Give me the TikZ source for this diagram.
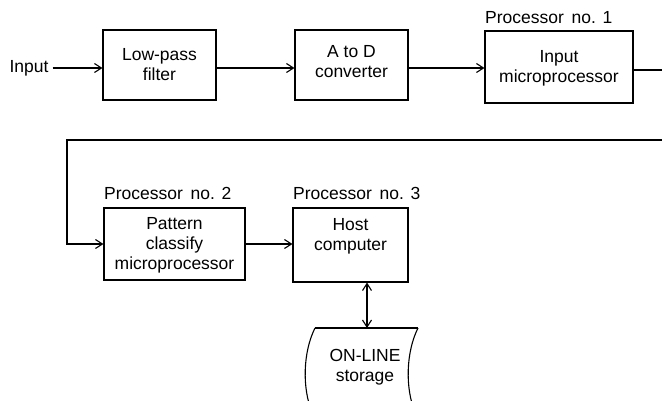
\documentclass[tikz,border=0pt]{standalone}
\usepackage{fontspec}
\setmainfont{Liberation Sans}
\usetikzlibrary{arrows.meta}
\begin{document}
\begin{tikzpicture}[x=1pt,y=-1pt,
  blk/.style={draw, line width=1.1pt, inner sep=0pt},
  txt/.style={align=center, font=\fontsize{17.5}{20}\selectfont, inner sep=0pt},
  lbl/.style={anchor=west, font=\fontsize{17.5}{20}\selectfont, inner sep=0pt},
  conn/.style={line width=1.1pt, -{Straight Barb[length=7pt,width=9pt,line width=1.1pt]}},
  line/.style={line width=1.1pt}]
\useasboundingbox (0,0) rectangle (662,400);
\clip (0,0) rectangle (662,400);
% blocks
\node[blk, minimum width=113pt, minimum height=70pt] (lpf) at (159.5,65) {};
\node[txt] (lpft) at (159.5,65) {Low-pass\\filter};
\node[blk, minimum width=113pt, minimum height=70pt] (atod) at (351.5,65) {};
\node[txt] (atodt) at (351.5,62) {A to D\\converter};
\node[blk, minimum width=148pt, minimum height=72pt] (inp) at (559,67) {};
\node[txt] (inpt) at (559,68) {Input\\microprocessor};
\node[blk, minimum width=141pt, minimum height=72pt] (pat) at (174.5,244) {};
\node[txt] (patt) at (174.5,245) {Pattern\\classify\\microprocessor};
\node[blk, minimum width=115pt, minimum height=74pt] (host) at (350.5,245) {};
\node[txt] (hostt) at (350.5,236) {Host\\computer};
% labels
\node[lbl] (p1) at (485,18) {Processor\, no. 1};
\node[lbl] (p2) at (104,193) {Processor\, no. 2};
\node[lbl] (p3) at (293,193) {Processor\, no. 3};
\node[txt] (in) at (29,68) {Input};
% storage
\draw[line] (315,328) -- (418,328);
\draw[line] (315,328) .. controls (303,352) and (302,388) .. (312,412);
\draw[line] (418,328) .. controls (406,352) and (405,388) .. (415,412);
\coordinate (st) at (367,328);
\node[txt] (stt) at (365,367) {ON-LINE\\storage};
% connectors
\draw[conn] (in.east) ++(4,0) coordinate (ins) -- (lpf.west |- ins);
\draw[conn] (lpf.east |- 0,68) -- (atod.west |- 0,68);
\draw[conn] (atod.east |- 0,68) -- (inp.west |- 0,68);
\coordinate (e1) at (662,70);
\coordinate (e2) at (662,140);
\coordinate (c1) at (67,140);
\draw[line] (inp.east |- e1) -- (e1);
\draw[conn] (e2) -- (c1) |- (pat.west);
\draw[conn] (pat.east) -- (pat.east -| host.west);
\draw[line, {Straight Barb[length=7pt,width=9pt,line width=1.1pt]}-{Straight Barb[length=7pt,width=9pt,line width=1.1pt]}] (host.south -| st) -- (st);
\end{tikzpicture}
\end{document}
